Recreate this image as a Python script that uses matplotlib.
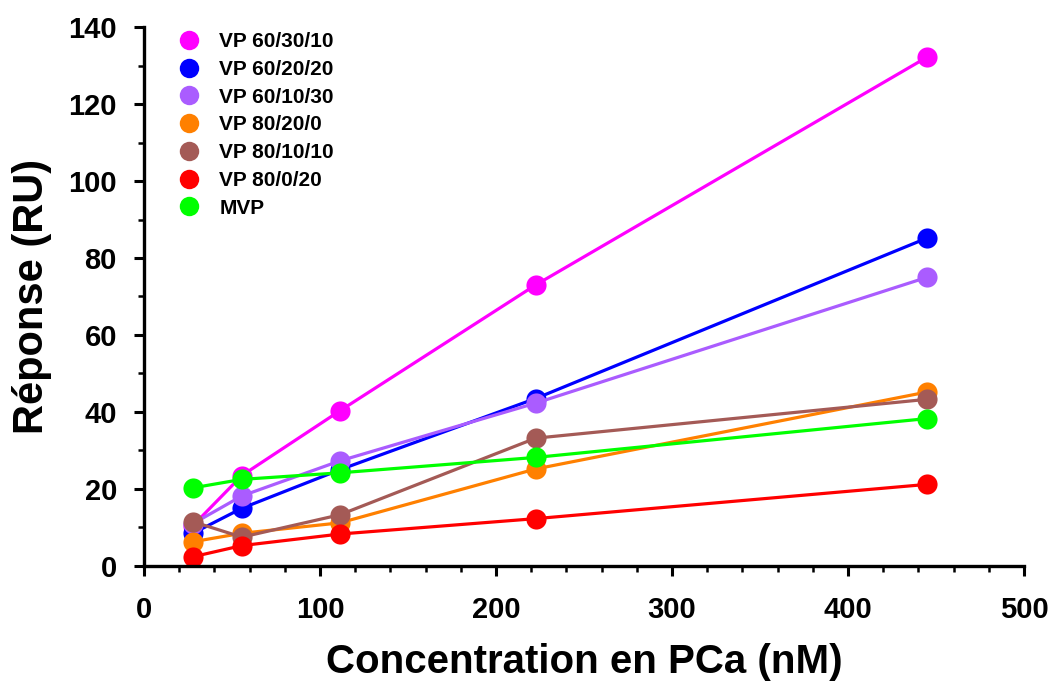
import matplotlib
matplotlib.use("Agg")
import matplotlib.pyplot as plt
from matplotlib.lines import Line2D
from matplotlib.ticker import MultipleLocator

plt.rcParams['font.family'] = ['Liberation Sans', 'DejaVu Sans']
plt.rcParams['font.weight'] = 'bold'

conc = [27.8, 55.6, 111.25, 222.5, 445]

names = ["VP 60/30/10", "VP 60/20/20", "VP 60/10/30", "VP 80/20/0",
         "VP 80/10/10", "VP 80/0/20", "MVP"]
vp_60_30_10 = [10.5, 23.5, 40.3, 73.0, 132.2]
vp_60_20_20 = [8.5, 15.0, 25.0, 43.5, 85.2]
vp_60_10_30 = [11.0, 18.2, 27.3, 42.3, 75.0]
vp_80_20_0 = [6.3, 8.5, 11.2, 25.2, 45.2]
vp_80_10_10 = [11.5, 7.5, 13.3, 33.2, 43.3]
vp_80_0_20 = [2.4, 5.3, 8.3, 12.3, 21.2]
mvp = [20.3, 22.5, 24.2, 28.2, 38.3]
series = [vp_60_30_10, vp_60_20_20, vp_60_10_30, vp_80_20_0,
          vp_80_10_10, vp_80_0_20, mvp]
colors = ["#ff00ff", "#0000ff", "#aa5cff", "#ff8000",
          "#a45a56", "#ff0000", "#00ff00"]

fig = plt.figure(figsize=(10.53, 6.82), dpi=100)
ax = fig.add_axes([0.1368, 0.1701, 0.8357, 0.7903])

for vals, c in zip(series, colors):
    ax.plot(conc, vals, color=c, linewidth=2.3, marker='o',
            markersize=14.5, markeredgewidth=0, clip_on=False)

ax.set_xlim(0, 500)
ax.set_ylim(0, 140)
ax.xaxis.set_major_locator(MultipleLocator(100))
ax.xaxis.set_minor_locator(MultipleLocator(20))
ax.yaxis.set_major_locator(MultipleLocator(20))
ax.yaxis.set_minor_locator(MultipleLocator(10))

for s in ['top', 'right']:
    ax.spines[s].set_visible(False)
for s in ['left', 'bottom']:
    ax.spines[s].set_linewidth(2.4)

ax.tick_params(axis='both', which='major', direction='out', length=7.5,
               width=2.2, labelsize=21)
ax.tick_params(axis='both', which='minor', direction='out', length=4.5,
               width=1.8)
ax.tick_params(axis='y', which='major', pad=12)
ax.tick_params(axis='x', which='major', pad=14)

ax.set_xlabel("Concentration en PCa (nM)", fontsize=29, fontweight='bold',
              labelpad=14)
ax.set_ylabel("Réponse (RU)", fontsize=30, fontweight='bold', labelpad=12)

handles = [Line2D([], [], linestyle='none', marker='o', markersize=14,
                  markeredgewidth=0, color=c) for c in colors]
ax.legend(handles, names, loc='upper left', bbox_to_anchor=(0.03, 1.006),
          frameon=False, prop={'weight': 'bold', 'size': 15},
          handlelength=1.0, handletextpad=0.95, labelspacing=0.42,
          borderaxespad=0)

fig.savefig("out.png", dpi=100)
